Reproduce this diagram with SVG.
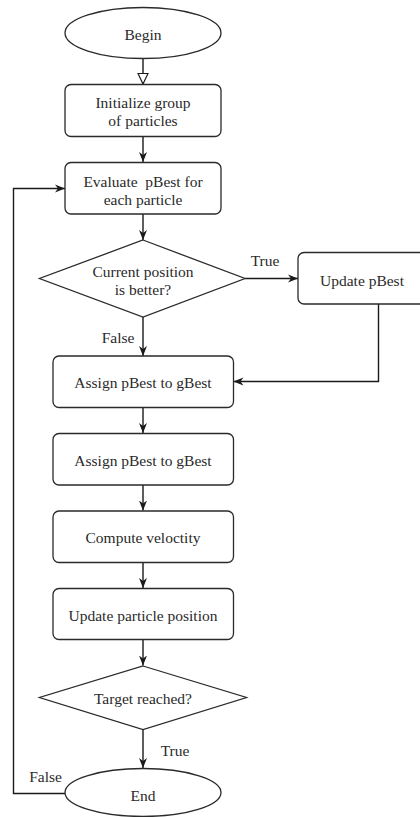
<svg xmlns="http://www.w3.org/2000/svg" width="420" height="817" viewBox="0 0 420 817">
<defs>
<style>
.s{fill:#fff;stroke:#2a2a2a;stroke-width:1.3}
.c{fill:none;stroke:#1a1a1a;stroke-width:1.4}
text{font-family:"Liberation Serif","Times New Roman",serif;font-size:15.5px;fill:#2a2a2a;text-anchor:middle;dominant-baseline:central}
</style>
<marker id="a" viewBox="0 0 10 10" refX="10" refY="5" markerWidth="10" markerHeight="10" markerUnits="userSpaceOnUse" orient="auto">
<path d="M0,1 L10,5 L0,9 L3,5 Z" fill="#1a1a1a"/>
</marker>
<marker id="h" viewBox="0 0 12 12" refX="11" refY="6" markerWidth="12" markerHeight="12" markerUnits="userSpaceOnUse" orient="auto">
<path d="M0.5,1 L11,6 L0.5,11 Z" fill="#fff" stroke="#1a1a1a" stroke-width="1.2"/>
</marker>
</defs>
<rect width="420" height="817" fill="#fff"/>
<g id="connectors">
<line class="c" x1="143" y1="58.5" x2="143" y2="84" marker-end="url(#h)"/>
<line class="c" x1="143" y1="137" x2="143" y2="162" marker-end="url(#a)"/>
<line class="c" x1="143" y1="214" x2="143" y2="240" marker-end="url(#a)"/>
<line class="c" x1="245" y1="278.5" x2="298" y2="278.5" marker-end="url(#a)"/>
<line class="c" x1="143" y1="317" x2="143" y2="356" marker-end="url(#a)"/>
<polyline class="c" points="378.5,304 378.5,381.5 233.5,381.5" marker-end="url(#a)"/>
<line class="c" x1="143" y1="407.5" x2="143" y2="433" marker-end="url(#a)"/>
<line class="c" x1="143" y1="485" x2="143" y2="510.5" marker-end="url(#a)"/>
<line class="c" x1="143" y1="562.5" x2="143" y2="588" marker-end="url(#a)"/>
<line class="c" x1="143" y1="639.5" x2="143" y2="665.5" marker-end="url(#a)"/>
<line class="c" x1="143" y1="729.5" x2="143" y2="768" marker-end="url(#a)"/>
<polyline class="c" points="65,793.5 13.5,793.5 13.5,188.5 65,188.5" marker-end="url(#a)"/>
<text x="265" y="260.5">True</text>
<text x="118" y="337">False</text>
<text x="175" y="750.5">True</text>
<text x="45.5" y="776">False</text>
</g>
<g id="begin">
<ellipse class="s" cx="143" cy="33" rx="78" ry="25.5"/>
<text x="143" y="34">Begin</text>
</g>
<g id="init">
<rect class="s" x="65" y="84.5" width="156" height="52" rx="6"/>
<text x="143" y="102.5">Initialize group</text>
<text x="143" y="120.5">of particles</text>
</g>
<g id="evaluate">
<rect class="s" x="65" y="162.5" width="156" height="51.5" rx="6"/>
<text x="143" y="181.5" xml:space="preserve" style="white-space:pre">Evaluate  pBest for</text>
<text x="143" y="199">each particle</text>
</g>
<g id="decision1">
<polygon class="s" points="143,240 245,278.5 143,317 39.5,278.5"/>
<text x="143" y="271.5">Current position</text>
<text x="143" y="289">is better?</text>
</g>
<g id="update-pbest">
<rect class="s" x="298" y="252.5" width="130" height="51.5" rx="6"/>
<text x="362" y="280">Update pBest</text>
</g>
<g id="assign1">
<rect class="s" x="53" y="356" width="180.5" height="51.5" rx="6"/>
<text x="143" y="382.5">Assign pBest to gBest</text>
</g>
<g id="assign2">
<rect class="s" x="53" y="433.5" width="180.5" height="51.5" rx="6"/>
<text x="143" y="460">Assign pBest to gBest</text>
</g>
<g id="compute">
<rect class="s" x="53" y="511" width="180.5" height="51.5" rx="6"/>
<text x="143" y="537.5">Compute veloctity</text>
</g>
<g id="update-position">
<rect class="s" x="53" y="588.5" width="180.5" height="51" rx="6"/>
<text x="143" y="615">Update particle position</text>
</g>
<g id="decision2">
<polygon class="s" points="143,666 246.5,697.5 143,729.5 39.5,697.5"/>
<text x="143" y="698">Target reached?</text>
</g>
<g id="end">
<ellipse class="s" cx="143" cy="792.5" rx="78" ry="24"/>
<text x="143" y="795">End</text>
</g>
</svg>
